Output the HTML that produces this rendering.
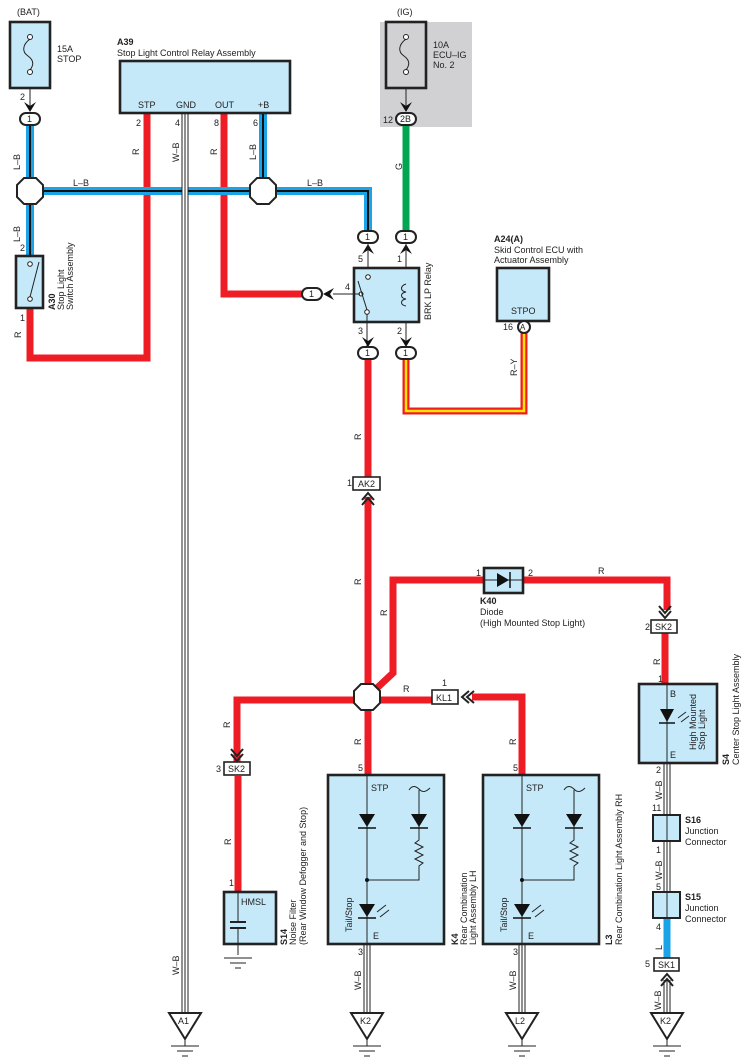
<!DOCTYPE html>
<html><head><meta charset="utf-8"><style>
html,body{margin:0;padding:0;background:#fff}
svg{display:block}
text{font-family:"Liberation Sans",sans-serif;font-size:9px;fill:#222}
.b{font-weight:bold}
.box{fill:#c5e9f9;stroke:#222;stroke-width:2.6}
.red{fill:none;stroke:#ee1c25;stroke-width:7}
.blu{fill:none;stroke:#1aa3e6;stroke-width:8}
.bc{fill:none;stroke:#111;stroke-width:2}
.wb1{fill:none;stroke:#222;stroke-width:7}
.wb2{fill:none;stroke:#fff;stroke-width:5}
.wb3{fill:none;stroke:#222;stroke-width:1}
.th{fill:none;stroke:#222;stroke-width:1}
.con{fill:#fff;stroke:#222;stroke-width:2}
.oct{fill:#fff;stroke:#222;stroke-width:2}
</style></head><body>
<svg width="752" height="1062" viewBox="0 0 752 1062" xmlns="http://www.w3.org/2000/svg">
<rect x="380" y="22" width="92" height="105" fill="#d1d1d3"/>

<path class="red" d="M30 308 V358 H147 V113"/>
<path class="red" d="M224 113 V294 H302"/>
<path class="red" d="M368 358 V477"/>
<path class="red" d="M368 497 V775"/>
<path class="red" d="M377 688 L393 673 V580 H484"/>
<path class="red" d="M523 580 H667 V610"/>
<path class="red" d="M665 633 V685"/>
<path class="red" d="M237 762 V700 H432"/>
<path class="red" d="M238 776 V892"/>
<path class="red" d="M472 697 H522 V775"/>
<path d="M406 358 V411 H524 V333" fill="none" stroke="#ee1c25" stroke-width="7"/>
<path d="M406 358 V411 H524 V333" fill="none" stroke="#ffe600" stroke-width="2.5"/>
<path d="M406 126 V231" stroke="#00a651" stroke-width="7" fill="none"/>
<path class="blu" d="M30 125 V256"/>
<path class="blu" d="M30 191 H368 V231"/>
<path class="blu" d="M263 113 V191"/>
<path class="bc" d="M30 125 V256"/>
<path class="bc" d="M30 191 H368 V231"/>
<path class="bc" d="M263 113 V191"/>
<path d="M667 918 V958" stroke="#1aa3e6" stroke-width="7" fill="none"/>
<g>
<path class="wb1" d="M185 113 V1013"/><path class="wb2" d="M185 113 V1013"/><path class="wb3" d="M185 113 V1013"/>
<path class="wb1" d="M367 944 V1013"/><path class="wb2" d="M367 944 V1013"/><path class="wb3" d="M367 944 V1013"/>
<path class="wb1" d="M522 944 V1013"/><path class="wb2" d="M522 944 V1013"/><path class="wb3" d="M522 944 V1013"/>
<path class="wb1" d="M667 763 V892"/><path class="wb2" d="M667 763 V892"/><path class="wb3" d="M667 763 V892"/>
<path class="wb1" d="M667 980 V1013"/><path class="wb2" d="M667 980 V1013"/><path class="wb3" d="M667 980 V1013"/>
</g>

<text x="17" y="15">(BAT)</text>
<rect class="box" x="10" y="22" width="40" height="66"/>
<circle cx="30" cy="37" r="2.5" fill="#fff" stroke="#222"/>
<circle cx="30" cy="72" r="2.5" fill="#fff" stroke="#222"/>
<path class="th" d="M30 39 C22 45,22 52,28 56 C35 61,33 66,30 70"/>
<text x="57" y="52">15A</text><text x="57" y="62">STOP</text>
<path class="th" d="M30 88 V106"/>
<text x="20" y="100">2</text>
<path d="M24 102 L30 112 L36 102 L30 106 Z" fill="#111"/>
<rect class="con" x="20" y="113" width="20" height="12" rx="6"/><text x="27" y="122">1</text>
<text x="20" y="170" transform="rotate(-90 20 170)">L–B</text>
<text x="20" y="242" transform="rotate(-90 20 242)">L–B</text>

<text class="b" x="117" y="45">A39</text>
<text x="117" y="56">Stop Light Control Relay Assembly</text>
<rect class="box" x="120" y="61" width="170" height="52"/>
<text x="138" y="108">STP</text><text x="176" y="108">GND</text><text x="215" y="108">OUT</text><text x="258" y="108">+B</text>
<text x="136" y="126">2</text><text x="175" y="126">4</text><text x="214" y="126">8</text><text x="253" y="126">6</text>
<text x="139" y="155" transform="rotate(-90 139 155)">R</text>
<text x="179" y="162" transform="rotate(-90 179 162)">W–B</text>
<text x="217" y="155" transform="rotate(-90 217 155)">R</text>
<text x="256" y="160" transform="rotate(-90 256 160)">L–B</text>
<text x="73" y="186">L–B</text><text x="307" y="186">L–B</text>

<polygon class="oct" points="24,178 36,178 43,185 43,197 36,204 24,204 17,197 17,185"/>
<polygon class="oct" points="257,178 269,178 276,185 276,197 269,204 257,204 250,197 250,185"/>
<polygon class="oct" points="361,684 373,684 380,691 380,703 373,710 361,710 354,703 354,691"/>

<text x="20" y="251">2</text>
<rect class="box" x="16" y="256" width="27" height="52"/>
<circle cx="30" cy="264" r="2.3" fill="#fff" stroke="#222"/>
<circle cx="30" cy="299" r="2.3" fill="#fff" stroke="#222"/>
<path class="th" d="M30 297 L39 262"/>
<text x="20" y="321">1</text>
<text x="21" y="338" transform="rotate(-90 21 338)">R</text>
<text class="b" x="55" y="310" transform="rotate(-90 55 310)">A30</text>
<text x="64" y="310" transform="rotate(-90 64 310)">Stop Light</text>
<text x="73" y="310" transform="rotate(-90 73 310)">Switch Assembly</text>

<text x="397" y="15">(IG)</text>
<rect x="386" y="22" width="40" height="66" fill="#d1d1d3" stroke="#222" stroke-width="2.6"/>
<circle cx="406" cy="37" r="2.5" fill="#fff" stroke="#222"/>
<circle cx="406" cy="72" r="2.5" fill="#fff" stroke="#222"/>
<path class="th" d="M406 39 C398 45,398 52,404 56 C411 61,409 66,406 70"/>
<text x="433" y="48">10A</text><text x="433" y="58">ECU–IG</text><text x="433" y="68">No. 2</text>
<path class="th" d="M406 88 V106"/>
<path d="M400 102 L406 112 L412 102 L406 106 Z" fill="#111"/>
<text x="383" y="123">12</text>
<rect class="con" x="396" y="113" width="20" height="12" rx="6"/><text x="400" y="122">2B</text>
<text x="402" y="170" transform="rotate(-90 402 170)">G</text>

<rect class="con" x="358" y="231" width="20" height="12" rx="6"/><text x="365" y="240">1</text>
<rect class="con" x="396" y="231" width="20" height="12" rx="6"/><text x="403" y="240">1</text>
<path d="M362 254 L368 244 L374 254 L368 250 Z" fill="#111"/>
<path d="M400 254 L406 244 L412 254 L406 250 Z" fill="#111"/>
<path class="th" d="M368 244 V276"/><path class="th" d="M406 244 V322"/>
<text x="358" y="262">5</text><text x="397" y="262">1</text>
<rect class="box" x="354" y="268" width="65" height="54"/>
<circle cx="368" cy="277" r="2.3" fill="#fff" stroke="#222"/>
<circle cx="367" cy="312" r="2.3" fill="#fff" stroke="#222"/>
<circle cx="361" cy="294" r="2" fill="#fff" stroke="#222"/>
<path class="th" d="M358 281 L367 310"/>
<path class="th" d="M333 294 H360"/>
<path class="th" d="M406 284 C400 286,400 291,406 292 C400 293,400 298,406 299 C400 300,400 305,406 306"/>
<text x="345" y="290">4</text>
<path d="M323 294 L334 288 L330 294 L334 300 Z" fill="#111"/>
<rect class="con" x="302" y="288" width="20" height="12" rx="6"/><text x="309" y="297">1</text>
<text x="431" y="320" transform="rotate(-90 431 320)">BRK LP Relay</text>
<path class="th" d="M367 314 V346"/><path class="th" d="M406 322 V346"/>
<text x="358" y="334">3</text><text x="397" y="334">2</text>
<path d="M362 337 L368 347 L374 337 L368 341 Z" fill="#111"/>
<path d="M400 337 L406 347 L412 337 L406 341 Z" fill="#111"/>
<rect class="con" x="358" y="347" width="20" height="12" rx="6"/><text x="365" y="356">1</text>
<rect class="con" x="396" y="347" width="20" height="12" rx="6"/><text x="403" y="356">1</text>

<text class="b" x="494" y="242">A24(A)</text>
<text x="494" y="253">Skid Control ECU with</text>
<text x="494" y="263">Actuator Assembly</text>
<rect class="box" x="497" y="268" width="52" height="53"/>
<text x="511" y="314">STPO</text>
<circle cx="524" cy="327" r="6" fill="#fff" stroke="#222" stroke-width="2"/>
<text x="520" y="330" style="font-size:8px">A</text>
<text x="503" y="330">16</text>
<text x="517" y="376" transform="rotate(-90 517 376)">R–Y</text>
<text x="361" y="440" transform="rotate(-90 361 440)">R</text>

<text x="347" y="486">1</text>
<rect x="353" y="477" width="27" height="13" fill="#fff" stroke="#222" stroke-width="1.6"/>
<text x="358" y="487">AK2</text>
<path d="M362 500 L368 493 L374 500 M362 505 L368 498 L374 505" fill="none" stroke="#222" stroke-width="2"/>
<text x="361" y="585" transform="rotate(-90 361 585)">R</text>
<text x="387" y="616" transform="rotate(-90 387 616)">R</text>

<text x="476" y="576">1</text><text x="528" y="576">2</text>
<rect class="box" x="484" y="568" width="39" height="25"/>
<path class="th" d="M484 580 H523"/>
<polygon points="497,573 497,587 509,580" fill="#111"/><path d="M510 572 V588" stroke="#111" stroke-width="1.5"/>
<text x="598" y="574">R</text>
<text class="b" x="480" y="604">K40</text>
<text x="480" y="615">Diode</text>
<text x="480" y="626">(High Mounted Stop Light)</text>

<path d="M659 606 L665 613 L671 606 M659 611 L665 618 L671 611" fill="none" stroke="#222" stroke-width="2"/>
<text x="645" y="630">2</text>
<rect x="651" y="620" width="26" height="13" fill="#fff" stroke="#222" stroke-width="1.6"/>
<text x="655" y="630">SK2</text>
<text x="660" y="665" transform="rotate(-90 660 665)">R</text>
<text x="658" y="682">1</text>

<rect class="box" x="639" y="684" width="78" height="79"/>
<path class="th" d="M667 684 V763"/>
<text x="670" y="697">B</text><text x="670" y="758">E</text>
<polygon points="660,709 674,709 667,722" fill="#111"/><path d="M659 723 H675" stroke="#111" stroke-width="1.5"/>
<path class="th" d="M678 718 L686 712 M681 722 L689 716"/>
<text x="696" y="750" transform="rotate(-90 696 750)">High Mounted</text>
<text x="705" y="750" transform="rotate(-90 705 750)">Stop Light</text>
<text class="b" x="729" y="765" transform="rotate(-90 729 765)">S4</text>
<text x="739" y="765" transform="rotate(-90 739 765)">Center Stop Light Assembly</text>
<text x="656" y="773">2</text>
<text x="662" y="800" transform="rotate(-90 662 800)">W–B</text>
<text x="652" y="811">11</text>
<rect class="box" x="653" y="815" width="27" height="26" style="stroke-width:2"/>
<path class="th" d="M667 815 V841"/>
<text class="b" x="685" y="823">S16</text><text x="685" y="834">Junction</text><text x="685" y="845">Connector</text>
<text x="656" y="853">1</text>
<text x="662" y="880" transform="rotate(-90 662 880)">W–B</text>
<text x="656" y="890">5</text>
<rect class="box" x="653" y="892" width="27" height="26" style="stroke-width:2"/>
<path class="th" d="M667 892 V918"/>
<text class="b" x="685" y="900">S15</text><text x="685" y="911">Junction</text><text x="685" y="922">Connector</text>
<text x="656" y="930">4</text>
<text x="662" y="950" transform="rotate(-90 662 950)">L</text>
<text x="645" y="967">5</text>
<rect x="654" y="958" width="25" height="13" fill="#fff" stroke="#222" stroke-width="1.6"/>
<text x="658" y="968">SK1</text>
<path d="M661 981 L667 974 L673 981 M661 986 L667 979 L673 986" fill="none" stroke="#222" stroke-width="2"/>
<text x="661" y="1010" transform="rotate(-90 661 1010)">W–B</text>

<text x="403" y="692">R</text>
<text x="442" y="686">1</text>
<rect x="432" y="690" width="26" height="14" fill="#fff" stroke="#222" stroke-width="1.6"/>
<text x="436" y="701">KL1</text>
<path d="M469 691 L462 697 L469 703 M474 691 L467 697 L474 703" fill="none" stroke="#222" stroke-width="2"/>
<text x="230" y="728" transform="rotate(-90 230 728)">R</text>
<text x="361" y="745" transform="rotate(-90 361 745)">R</text>
<text x="516" y="745" transform="rotate(-90 516 745)">R</text>
<text x="358" y="771">5</text><text x="513" y="771">5</text>

<path d="M231 749 L237 756 L243 749 M231 754 L237 761 L243 754" fill="none" stroke="#222" stroke-width="2"/>
<text x="216" y="772">3</text>
<rect x="224" y="762" width="26" height="13" fill="#fff" stroke="#222" stroke-width="1.6"/>
<text x="228" y="772">SK2</text>
<text x="231" y="845" transform="rotate(-90 231 845)">R</text>
<text x="229" y="886">1</text>

<rect class="box" x="224" y="892" width="52" height="52"/>
<text x="241" y="905">HMSL</text>
<path class="th" d="M238 892 V922 M238 929 V955"/>
<path d="M230 922 H246 M230 928 H246" stroke="#222" stroke-width="2"/>
<path class="th" d="M224 958 H252 M230 963 H246 M235 968 H241"/>
<text class="b" x="287" y="945" transform="rotate(-90 287 945)">S14</text>
<text x="296" y="945" transform="rotate(-90 296 945)">Noise Filter</text>
<text x="306" y="945" transform="rotate(-90 306 945)">(Rear Window Defogger and Stop)</text>

<g id="lamp">
<rect class="box" x="328" y="775" width="116" height="169"/>
<path class="th" d="M367 775 V944"/>
<text x="371" y="791">STP</text>
<polygon points="359,814 375,814 367,827" fill="#111"/><path d="M358 828 H376" stroke="#111" stroke-width="1.4"/>
<path class="th" d="M409 790 C413 784,417 787,420 790 C423 793,427 791,430 788"/>
<path class="th" d="M419 790 V840 L415 843 L423 847 L415 851 L423 855 L415 859 L423 863 L419 866 V880 H367"/>
<polygon points="411,814 427,814 419,827" fill="#111"/><path d="M410 828 H428" stroke="#111" stroke-width="1.4"/>
<circle cx="367" cy="880" r="2" fill="#111"/>
<polygon points="359,904 375,904 367,917" fill="#111"/><path d="M358 918 H376" stroke="#111" stroke-width="1.4"/>
<path class="th" d="M377 912 L386 905 M380 917 L389 910"/>
<text x="352" y="932" transform="rotate(-90 352 932)">Tail/Stop</text>
<text x="373" y="939">E</text>
<text x="358" y="955">3</text>
</g>
<use href="#lamp" transform="translate(155 0)"/>
<text class="b" x="458" y="945" transform="rotate(-90 458 945)">K4</text>
<text x="467" y="945" transform="rotate(-90 467 945)">Rear Combination</text>
<text x="476" y="945" transform="rotate(-90 476 945)">Light Assembly LH</text>
<text class="b" x="612" y="945" transform="rotate(-90 612 945)">L3</text>
<text x="622" y="945" transform="rotate(-90 622 945)">Rear Combination Light Assembly RH</text>
<text x="361" y="990" transform="rotate(-90 361 990)">W–B</text>
<text x="516" y="990" transform="rotate(-90 516 990)">W–B</text>
<text x="179" y="975" transform="rotate(-90 179 975)">W–B</text>

<g id="gnd">
<polygon points="169,1013 201,1013 185,1039" fill="#fff" stroke="#222" stroke-width="2"/>
<path class="th" d="M185 1039 V1046 M171 1046 H199 M177 1051 H193 M182 1056 H188"/>
</g>
<text x="178" y="1024">A1</text>
<use href="#gnd" transform="translate(182 0)"/><text x="360" y="1024">K2</text>
<use href="#gnd" transform="translate(337 0)"/><text x="515" y="1024">L2</text>
<use href="#gnd" transform="translate(482 0)"/><text x="660" y="1024">K2</text>
</svg>
</body></html>
